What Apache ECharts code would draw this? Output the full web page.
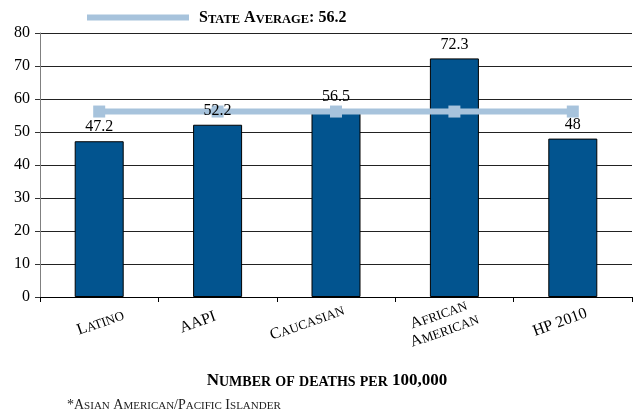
<!DOCTYPE html>
<html>
<head>
<meta charset="utf-8">
<script src="https://cdn.jsdelivr.net/npm/echarts@6/dist/echarts.min.js"></script>
<style>
  html, body { margin: 0; padding: 0; background: #fff; }
  #chart { width: 636px; height: 412px; }
</style>
</head>
<body>
<div id="chart"></div>
<script>
// Death rates per 100,000 by group, with the state average drawn as a line
const categories = ['Latino', 'AAPI', 'Caucasian', 'African\nAmerican', 'HP 2010'];
const deathRates = [47.2, 52.2, 56.5, 72.3, 48];
const stateAverage = 56.2;
const stateAverageLine = [56.2, 56.2, 56.2, 56.2, 56.2];
const yMin = 0;
const yMax = 80;
const yStep = 10;
const axisTitle = 'Number of deaths per 100,000';
const footnote = '*Asian American/Pacific Islander';

// Horizontal nudge (px) for each rotated category label
const labelNudgeX = [1, -20, -29, -13, -13];
const LABEL_ROTATE = 20;

const SERIF = '"Liberation Serif", "DejaVu Serif", serif';
const BAR_WIDTH = 49;

// Small-caps text: runs of lowercase letters become smaller capitals
function smallCaps(text, big, small) {
  return text.split('\n').map(function (line) {
    return line.replace(/([a-z]+)|([^a-z]+)/g, function (m, lower, other) {
      return lower ? '{' + small + '|' + lower.toUpperCase() + '}' : '{' + big + '|' + other + '}';
    });
  }).join('\n');
}

function capsStyles(bigSize, smallSize, extra) {
  const base = Object.assign({ fontFamily: SERIF, color: '#000', verticalAlign: 'bottom', fontWeight: 'normal' }, extra || {});
  return {
    b: Object.assign({}, base, { fontSize: bigSize, lineHeight: bigSize + 1 }),
    s: Object.assign({}, base, { fontSize: smallSize, lineHeight: bigSize + 1 })
  };
}

// Padding that moves a centred, rotated label sideways on screen
function nudgePadding(dx) {
  const t = LABEL_ROTATE * Math.PI / 180;
  const along = dx * Math.cos(t);   // along the baseline
  const across = dx * Math.sin(t);  // perpendicular, towards the text's bottom
  return [
    across > 0 ? 2 * across : 0,
    along < 0 ? -2 * along : 0,
    across < 0 ? -2 * across : 0,
    along > 0 ? 2 * along : 0
  ];
}

const legendName = 'State Average: ' + stateAverage;

const chart = echarts.init(document.getElementById('chart'), null, { renderer: 'canvas' });

chart.setOption({
  animation: false,
  backgroundColor: '#fff',
  grid: { left: 40, right: 4, top: 33, bottom: 115, containLabel: false },
  legend: {
    left: 82,
    top: 5,
    icon: 'rect',
    itemWidth: 102,
    itemHeight: 6,
    data: [legendName],
    formatter: function (name) { return smallCaps(name, 'b', 's'); },
    textStyle: {
      padding: [0, 0, 0, 5],
      rich: capsStyles(16, 12.5, { fontWeight: 'bold' })
    }
  },
  title: {
    text: smallCaps(footnote, 'b', 's'),
    left: 67,
    top: 397,
    padding: 0,
    textStyle: { fontWeight: 'normal', rich: capsStyles(14, 11, { color: '#222' }) }
  },
  xAxis: {
    type: 'category',
    data: categories.map(function (c, i) {
      return {
        value: c,
        textStyle: {
          align: 'center',
          verticalAlign: 'middle',
          padding: nudgePadding(labelNudgeX[i])
        }
      };
    }),
    name: smallCaps(axisTitle, 'b', 's'),
    nameLocation: 'middle',
    nameGap: 74,
    nameTextStyle: { padding: [0, 18, 0, 0], rich: capsStyles(17, 14, { fontWeight: 'bold' }) },
    axisLine: { lineStyle: { color: '#000', width: 1 } },
    axisTick: { show: true, length: 5, lineStyle: { color: '#000' } },
    axisLabel: {
      rotate: LABEL_ROTATE,
      align: 'center',
      verticalAlign: 'middle',
      margin: 25,
      formatter: function (v) { return smallCaps(v, 'b', 's'); },
      rich: capsStyles(16, 13)
    }
  },
  yAxis: {
    type: 'value',
    min: yMin,
    max: yMax,
    interval: yStep,
    axisLine: { show: true, lineStyle: { color: '#808080', width: 1 } },
    axisTick: { show: true, length: 5, lineStyle: { color: '#333' } },
    axisLabel: { fontFamily: SERIF, fontSize: 16, color: '#000', margin: 10 },
    splitLine: { lineStyle: { color: '#222', width: 1 } }
  },
  series: [
    {
      type: 'bar',
      name: 'Deaths',
      z: 2,
      data: deathRates,
      barWidth: BAR_WIDTH,
      barGap: '-100%',
      itemStyle: { color: '#02548f', borderColor: '#000', borderWidth: 1 }
    },
    {
      type: 'line',
      name: legendName,
      z: 3,
      data: stateAverageLine,
      symbol: 'rect',
      symbolSize: 12,
      showSymbol: true,
      color: '#a7c3dc',
      lineStyle: { color: '#a7c3dc', width: 6 },
      itemStyle: { color: '#a7c3dc' }
    },
    {
      // value labels, kept above the average line
      type: 'bar',
      name: 'Deaths label',
      z: 4,
      silent: true,
      data: deathRates,
      barWidth: BAR_WIDTH,
      barGap: '-100%',
      itemStyle: { color: 'rgba(0,0,0,0)', borderWidth: 0 },
      label: {
        show: true,
        position: 'top',
        distance: 6,
        fontFamily: SERIF,
        fontSize: 16,
        color: '#000'
      }
    }
  ]
});
</script>
</body>
</html>
